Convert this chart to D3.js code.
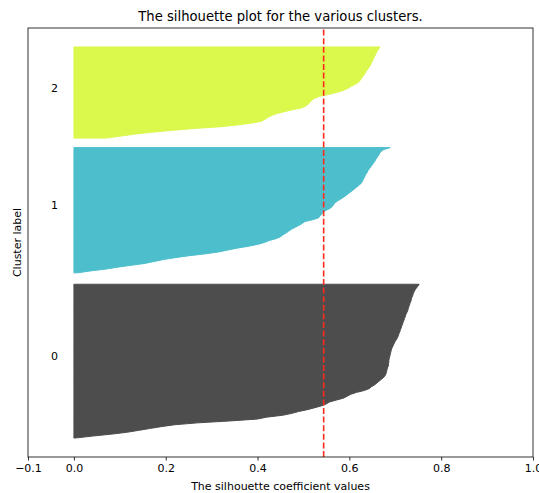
<!DOCTYPE html>
<html>
<head>
<meta charset="utf-8">
<script src="https://cdn.jsdelivr.net/npm/d3@7/dist/d3.min.js"></script>
<style>
  html, body { margin: 0; padding: 0; background: #ffffff; }
  svg { display: block; font-family: "DejaVu Sans", sans-serif; }
</style>
</head>
<body>
<svg id="chart" width="539" height="493"></svg>
<script>
// ---- data ----
const clusterLabels = ["0", "1", "2"];
const clusterColors = ["#4d4d4d", "#4dbfcc", "#dbf84d"];
const clusterStarts = [10, 97, 168];
// sorted silhouette values per cluster (bottom to top)
const cluster0Values = [
  0.003, 0.04, 0.08, 0.115, 0.14, 0.165, 0.19, 0.22, 0.27, 0.34,
  0.40, 0.42, 0.455, 0.475, 0.49, 0.51, 0.525, 0.54, 0.55, 0.557,
  0.572, 0.587, 0.595, 0.603, 0.615, 0.632, 0.643, 0.648, 0.655, 0.660,
  0.665, 0.670, 0.675, 0.678, 0.680, 0.681, 0.682, 0.683, 0.685, 0.685,
  0.686, 0.686, 0.687, 0.688, 0.689, 0.690, 0.691, 0.692, 0.694, 0.696,
  0.698, 0.700, 0.703, 0.705, 0.707, 0.708, 0.710, 0.711, 0.713, 0.714,
  0.716, 0.717, 0.719, 0.720, 0.722, 0.723, 0.725, 0.727, 0.728, 0.729,
  0.731, 0.732, 0.734, 0.735, 0.736, 0.738, 0.739, 0.741, 0.743, 0.746,
  0.749, 0.752
];
const cluster1Values = [
  0.008, 0.035, 0.07, 0.095, 0.125, 0.155, 0.175, 0.195, 0.22, 0.25,
  0.285, 0.315, 0.335, 0.355, 0.38, 0.40, 0.415, 0.425, 0.44, 0.45,
  0.455, 0.462, 0.468, 0.474, 0.482, 0.490, 0.497, 0.503, 0.52, 0.533,
  0.536, 0.540, 0.543, 0.550, 0.558, 0.563, 0.566, 0.569, 0.575, 0.582,
  0.588, 0.594, 0.599, 0.605, 0.610, 0.615, 0.620, 0.625, 0.628, 0.630,
  0.632, 0.634, 0.636, 0.639, 0.641, 0.644, 0.647, 0.650, 0.653, 0.656,
  0.658, 0.661, 0.664, 0.666, 0.669, 0.675, 0.689
];
const cluster2Values = [
  0.07, 0.10, 0.13, 0.165, 0.21, 0.26, 0.32, 0.36, 0.39, 0.41,
  0.417, 0.423, 0.432, 0.443, 0.46, 0.478, 0.497, 0.506, 0.511, 0.514,
  0.519, 0.524, 0.535, 0.555, 0.572, 0.585, 0.595, 0.602, 0.610, 0.618,
  0.622, 0.625, 0.628, 0.631, 0.634, 0.636, 0.639, 0.642, 0.645, 0.647,
  0.649, 0.651, 0.653, 0.655, 0.657, 0.659, 0.661, 0.664, 0.667
];
const silhouetteAvg = 0.544;
const xTicks = [-0.1, 0.0, 0.2, 0.4, 0.6, 0.8, 1.0];
const xDomain = [-0.1, 1.0];
const yDomain = [0, 226];
const titleText = "The silhouette plot for the various clusters.";
const xLabelText = "The silhouette coefficient values";
const yLabelText = "Cluster label";

// ---- layout ----
const svg = d3.select("#chart");
const m = { left: 28, right: 533, top: 28, bottom: 457 };
const x = d3.scaleLinear().domain(xDomain).range([m.left, m.right]);
const y = d3.scaleLinear().domain(yDomain).range([m.bottom, m.top]);

const clusters = [cluster0Values, cluster1Values, cluster2Values];

const area = d3.area()
  .x0(() => x(0))
  .x1(d => x(d.v))
  .y(d => y(d.y))
  .curve(d3.curveLinear);

clusters.forEach((vals, i) => {
  const pts = vals.map((v, j) => ({ v: v, y: clusterStarts[i] + j }));
  svg.append("path")
    .datum(pts)
    .attr("d", area)
    .attr("fill", clusterColors[i])
    .attr("stroke", clusterColors[i])
    .attr("stroke-width", 1);
  svg.append("text")
    .attr("x", x(-0.05))
    .attr("y", y(clusterStarts[i] + 0.5 * vals.length))
    .attr("font-size", 11)
    .attr("fill", "#000")
    .text(clusterLabels[i]);
});

// average line
svg.append("line")
  .attr("x1", x(silhouetteAvg)).attr("x2", x(silhouetteAvg))
  .attr("y1", y(yDomain[0])).attr("y2", y(yDomain[1]))
  .attr("stroke", "#ff2a1a")
  .attr("stroke-width", 1.6)
  .attr("stroke-dasharray", "6,2.6");

// frame
svg.append("rect")
  .attr("x", m.left).attr("y", m.top)
  .attr("width", m.right - m.left).attr("height", m.bottom - m.top)
  .attr("fill", "none").attr("stroke", "#000").attr("stroke-width", 0.8);

// x axis
const xAxis = d3.axisBottom(x)
  .tickValues(xTicks)
  .tickSize(3.5)
  .tickPadding(3.5)
  .tickFormat(d => d3.format(".1f")(d).replace("-", "\u2212"));
const gx = svg.append("g")
  .attr("transform", `translate(0,${m.bottom})`)
  .call(xAxis);
gx.select(".domain").remove();
gx.selectAll(".tick line").attr("stroke", "#000").attr("stroke-width", 0.8);
gx.selectAll(".tick text")
  .attr("font-size", 11)
  .attr("font-family", "DejaVu Sans, sans-serif")
  .attr("fill", "#000");

// labels
svg.append("text")
  .attr("x", (m.left + m.right) / 2)
  .attr("y", 21)
  .attr("text-anchor", "middle")
  .attr("font-size", 13.2)
  .attr("fill", "#000")
  .text(titleText);
svg.append("text")
  .attr("x", (m.left + m.right) / 2)
  .attr("y", 490)
  .attr("text-anchor", "middle")
  .attr("font-size", 11)
  .attr("fill", "#000")
  .text(xLabelText);
svg.append("text")
  .attr("transform", `translate(21,${(m.top + m.bottom) / 2}) rotate(-90)`)
  .attr("text-anchor", "middle")
  .attr("font-size", 11)
  .attr("fill", "#000")
  .text(yLabelText);
</script>
</body>
</html>
